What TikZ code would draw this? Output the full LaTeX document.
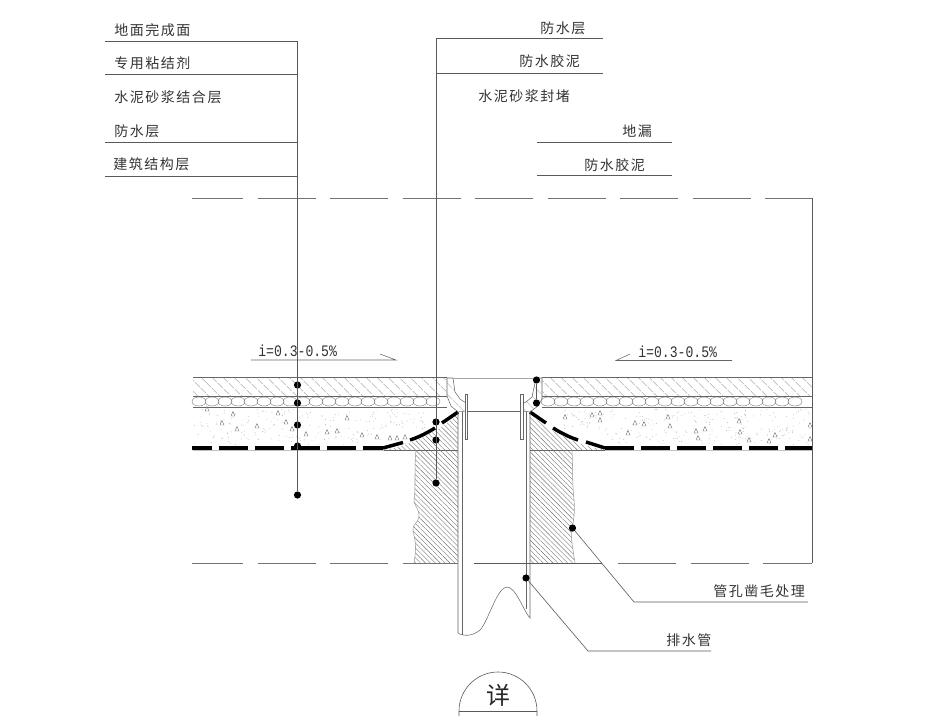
\documentclass[tikz,border=0pt]{standalone}
\usepackage{fontspec}
\usetikzlibrary{patterns.meta}
\newfontfamily\cjk[LetterSpace=11]{Noto Sans CJK SC}
\newfontfamily\cjkbig{Noto Sans CJK SC}
\newfontfamily\slopefont[FakeStretch=0.82]{Liberation Mono}
\tikzset{
  leader/.style={draw=black!65,line width=0.45pt},
  cadline/.style={draw=black!60,line width=0.4pt},
  breakline/.style={draw=black!55,line width=0.5pt,dash pattern=on 43.5pt off 10.9pt,dash phase=5.25pt},
  membrane/.style={draw=black,line width=2.6pt},
  dotmark/.style={circle,fill=black,inner sep=0pt,minimum size=5.4pt},
  calllabel/.style={anchor=west,inner sep=0pt,text=black!80,font=\cjk\fontsize{10.5}{12}\selectfont},
  slopelabel/.style={anchor=west,inner sep=0pt,text=black!80,font=\slopefont\fontsize{12}{14}\selectfont},
  grain/.style={draw=black!55,line width=0.3pt},
  tilehatch/.style={pattern={Lines[angle=-45,distance=6.4pt,line width=0.3pt]},pattern color=black!65},
  wallhatch/.style={pattern={Lines[angle=-45,distance=2.6pt,line width=0.3pt]},pattern color=black!55}
}
\begin{document}
\begin{tikzpicture}[x=0.75pt,y=0.75pt,yscale=-1,xscale=1]
  \useasboundingbox (0,0) rectangle (944,716);

  %Tile layer
  \path [tilehatch] (193,377) rectangle (447,396);
  \path [tilehatch] (542,377) rectangle (812,396);
  \draw [cadline] (193,377) -- (447,377) (193,396) -- (447,396) (193,407) -- (447,407);
  \draw [cadline] (542,377) -- (812,377) (542,396) -- (812,396) (542,407) -- (812,407);
  %Bonding layer
  \foreach \x in {199,212,...,441}{\draw [grain] (\x,401.5) ellipse (7 and 4.5);}
  \foreach \x in {548,561,...,806}{\draw [grain] (\x,401.5) ellipse (7 and 4.5);}
  %Mortar speckle
  \pgfmathsetseed{47}
  \foreach \i in {1,...,170}{\fill [black!30] ({193+190*rnd},{409+36*rnd}) circle (0.45);}
  \foreach \i in {1,...,220}{\fill [black!30] ({605+205*rnd},{409+36*rnd}) circle (0.45);}
  \foreach \i in {1,...,40}{\fill [black!30] ({385+40*rnd},{409+20*rnd}) circle (0.45);}
  \foreach \i in {1,...,40}{\fill [black!30] ({560+45*rnd},{409+20*rnd}) circle (0.45);}
  %Mortar grains
  \foreach \x/\y in {207/409,233/414,222/423,237/429,257/426,278/413,286/422,292/429,306/434,327/432,337/431,347/418,362/435,377/437,390/438,397/438,405/437,
    565/417,592/415,600/413,600/420,635/423,644/424,668/417,670/426,628/433,696/431,705/429,698/438,739/421,740/432,749/440,769/441,775/435,810/425,810/439}{
    \draw [grain] (\x-2,\y+2) -- (\x+2,\y+2) -- (\x,\y-2.5) -- cycle;
  }

  %Structure slab and wedges
  \path [wallhatch] (384,450) .. controls (410,446) and (440,431) .. (458,414) -- (458,450) -- cycle;
  \path [wallhatch] (530,414) .. controls (548,431) and (578,446) .. (605,450) -- (530,450) -- cycle;
  \path [wallhatch] (416,450) .. controls (414,470) and (416,490) .. (414,500) .. controls (415,508) and (420,510) .. (419,517) .. controls (417,524) and (412,525) .. (413,531) .. controls (415,540) and (417,545) .. (414,563) -- (458,563) -- (458,450) -- cycle;
  \path [wallhatch] (530,450) -- (530,563) -- (575,563) .. controls (573,550) and (570,535) .. (572,528) .. controls (574,520) and (575,510) .. (574,500) .. controls (572,480) and (573,470) .. (572,450) -- cycle;
  \draw [cadline] (384,450) -- (458,450) (530,450) -- (605,450);
  \draw [cadline,black!40] (416,450) .. controls (414,470) and (416,490) .. (414,500) .. controls (415,508) and (420,510) .. (419,517) .. controls (417,524) and (412,525) .. (413,531) .. controls (415,540) and (417,545) .. (414,563);
  \draw [cadline,black!40] (575,563) .. controls (573,550) and (570,535) .. (572,528) .. controls (574,520) and (575,510) .. (574,500) .. controls (572,480) and (573,470) .. (572,450);

  %Waterproof membrane
  \draw [draw=black!25,line width=0.5pt] (193,450) -- (384,450) (605,450) -- (812,450);
  \draw [membrane,dash pattern=on 21.75pt off 5.25pt,dash phase=6.75pt] (192,448) -- (383,448);
  \draw [membrane] (383,448) -- (403,442.5);
  \draw [membrane] (410,440) .. controls (418,437.5) and (427,433) .. (435,428);
  \draw [membrane] (442,423) -- (458,412);
  \draw [membrane] (530,412) -- (546,423);
  \draw [membrane] (553,428) .. controls (561,433) and (570,437.5) .. (578,440);
  \draw [membrane] (586,442) -- (605,448);
  \draw [membrane,dash pattern=on 21.75pt off 5.25pt] (605,448) -- (812,448);

  %Drain pipe
  \draw [cadline] (458,412) -- (458,633) .. controls (462,636) and (472,637) .. (480,630) .. controls (488,622) and (497,587) .. (507,587) .. controls (516,587) and (524,612) .. (530,618) -- (530,412);
  \draw [cadline] (462,412) -- (462,635);
  \draw [cadline] (526,412) -- (526,609);
  %Floor drain body
  \path [tilehatch,pattern color=black!70] (447,378) -- (453,378) -- (455,392) -- (460,399) -- (466,403) -- (466,411) -- (458,412) -- (451,406) -- (447,396) -- cycle;
  \draw [cadline] (447,378) -- (453,378) -- (455,392) -- (460,399) -- (466,403) -- (466,411) -- (458,412) -- (451,406) -- (447,396) -- cycle;
  \path [tilehatch,pattern color=black!70] (542,378) -- (536,378) -- (532,397) -- (526,402) -- (522,404) -- (522,411) -- (530,412) -- (538,406) -- (542,399) -- cycle;
  \draw [cadline] (542,378) -- (536,378) -- (532,397) -- (526,402) -- (522,404) -- (522,411) -- (530,412) -- (538,406) -- (542,399) -- cycle;
  \draw [draw=black!35,line width=1.2pt] (453,378.5) -- (536,378.5);
  \draw [cadline] (467,411) -- (521,411);
  \draw [cadline,fill=white] (465,394) rectangle (467.5,439);
  \draw [cadline,fill=white] (520.5,394) rectangle (523,439);

  %Break lines
  \draw [breakline] (192,198) -- (812,198);
  \draw [leader] (812.5,198) -- (812.5,563);
  \draw [breakline] (192,563.5) -- (458,563.5);
  \draw [leader] (474,563.5) -- (602,563.5);
  \draw [breakline,dash phase=0pt] (618,563.5) -- (812,563.5);

  %Slope marks
  \coordinate (slopeLa) at (251,360);
  \coordinate (slopeLb) at (396,360);
  \coordinate (slopeLc) at (380,354);
  \coordinate (slopeRa) at (616,360.5);
  \coordinate (slopeRb) at (732,360.5);
  \coordinate (slopeRc) at (630,354);
  \draw [cadline] (slopeLa) -- (slopeLb) -- (slopeLc);
  \draw [cadline] (slopeRc) -- (slopeRa) -- (slopeRb);
  \node [slopelabel] (slopeL) at (258,351) {i=0.3-0.5\%};
  \node [slopelabel] (slopeR) at (638,352) {i=0.3-0.5\%};

  % Left call-out
  \coordinate (leftA) at (105,41.5);
  \coordinate (leftB) at (105,74.5);
  \coordinate (leftC) at (105,142.5);
  \coordinate (leftD) at (105,176);
  \coordinate (leftTop) at (297.5,41.5);
  \node [dotmark] (dotA) at (297.5,385) {};
  \node [dotmark] (dotB) at (297.5,403) {};
  \node [dotmark] (dotC) at (297.5,425) {};
  \node [dotmark] (dotD) at (297.5,446) {};
  \node [dotmark] (dotE) at (297.5,495) {};
  \draw [leader] (leftA) -- (leftTop) -- (dotE);
  \foreach \n in {leftB,leftC,leftD}{\draw [leader] (\n) -- (\n -| leftTop);}
  \node [calllabel] (txtA) at (114,30) {地面完成面};
  \node [calllabel] (txtB) at (114,63) {专用粘结剂};
  \node [calllabel] (txtC) at (114,97) {水泥砂浆结合层};
  \node [calllabel] (txtD) at (114,131) {防水层};
  \node [calllabel] (txtE) at (113,164) {建筑结构层};

  % Middle call-out
  \coordinate (midTop) at (436,38.5);
  \coordinate (midA) at (603,38.5);
  \coordinate (midB) at (603,73.5);
  \node [dotmark] (dotF) at (436,422) {};
  \node [dotmark] (dotG) at (436,440) {};
  \node [dotmark] (dotH) at (436,483) {};
  \draw [leader] (midA) -- (midTop) -- (dotH);
  \draw [leader] (midB) -- (midB -| midTop);
  \node [calllabel] (txtF) at (540,28) {防水层};
  \node [calllabel] (txtG) at (519,61) {防水胶泥};
  \node [calllabel] (txtH) at (478,96) {水泥砂浆封堵};

  % Right call-out
  \coordinate (rightA) at (537,142.5);
  \coordinate (rightB) at (672,142.5);
  \coordinate (rightC) at (537,175.5);
  \coordinate (rightD) at (672,175.5);
  \draw [leader] (rightA) -- (rightB);
  \draw [leader] (rightC) -- (rightD);
  \node [dotmark] (dotI) at (536.5,380) {};
  \node [dotmark] (dotJ) at (536.5,403) {};
  \draw [leader] (dotI) -- (dotJ);
  \node [calllabel] (txtI) at (622,131) {地漏};
  \node [calllabel] (txtJ) at (584,165) {防水胶泥};

  % Lower call-outs
  \node [dotmark] (dotK) at (572.5,528) {};
  \coordinate (wallBend) at (634,602);
  \coordinate (wallEnd) at (808,602);
  \draw [leader] (dotK) -- (wallBend) -- (wallEnd);
  \node [calllabel] (txtK) at (713,591) {管孔凿毛处理};
  \node [dotmark] (dotL) at (526,578) {};
  \coordinate (pipeBend) at (588,651);
  \coordinate (pipeEnd) at (711,651);
  \draw [leader] (dotL) -- (pipeBend) -- (pipeEnd);
  \node [calllabel] (txtL) at (666,640) {排水管};

  % Title mark
  \coordinate (titleL) at (459,711);
  \coordinate (titleR) at (537,711);
  \draw [leader] (titleL) -- (titleR);
  \draw [leader] (459,716) -- (titleL) arc [start angle=180,end angle=360,radius=39] -- (537,716);
  \node [inner sep=0pt,text=black!85,font=\cjkbig\fontsize{18}{20}\selectfont] (txtTitle) at (498,695) {详};
\end{tikzpicture}
\end{document}
